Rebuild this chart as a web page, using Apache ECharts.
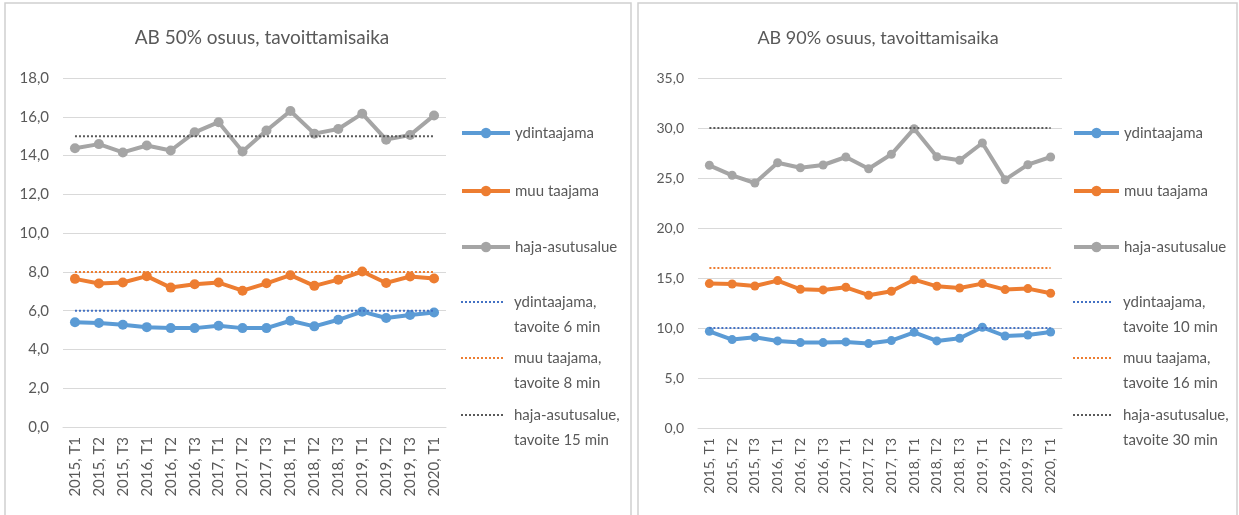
<!DOCTYPE html>
<html>
<head>
<meta charset="utf-8">
<script src="https://cdn.jsdelivr.net/npm/echarts@6/dist/echarts.min.js"></script>
<style>
html,body{margin:0;padding:0;background:#fff;}
#c{width:1239px;height:515px;}
</style>
</head>
<body>
<div id="c"></div>
<script>
const categories = ['2015, T1','2015, T2','2015, T3','2016, T1','2016, T2','2016, T3','2017, T1','2017, T2','2017, T3','2018, T1','2018, T2','2018, T3','2019, T1','2019, T2','2019, T3','2020, T1'];

// AB 50% (left)
const blue50   = [5.40, 5.36, 5.27, 5.15, 5.10, 5.10, 5.22, 5.10, 5.10, 5.48, 5.19, 5.53, 5.95, 5.62, 5.78, 5.91];
const orange50 = [7.64, 7.40, 7.45, 7.78, 7.19, 7.36, 7.45, 7.03, 7.41, 7.83, 7.28, 7.60, 8.02, 7.43, 7.76, 7.66];
const gray50   = [14.38, 14.59, 14.16, 14.52, 14.26, 15.20, 15.72, 14.21, 15.29, 16.30, 15.13, 15.37, 16.16, 14.82, 15.06, 16.07];
const target50Blue   = [6,6,6,6,6,6,6,6,6,6,6,6,6,6,6,6];
const target50Orange = [8,8,8,8,8,8,8,8,8,8,8,8,8,8,8,8];
const target50Gray   = [15,15,15,15,15,15,15,15,15,15,15,15,15,15,15,15];

// AB 90% (right)
const blue90   = [9.67, 8.84, 9.07, 8.71, 8.54, 8.54, 8.61, 8.44, 8.74, 9.57, 8.71, 8.97, 10.07, 9.20, 9.30, 9.60];
const orange90 = [14.44, 14.40, 14.20, 14.74, 13.87, 13.81, 14.07, 13.28, 13.68, 14.83, 14.17, 14.00, 14.44, 13.84, 13.94, 13.48];
const gray90   = [26.27, 25.27, 24.50, 26.53, 26.03, 26.30, 27.10, 25.93, 27.37, 29.93, 27.13, 26.77, 28.50, 24.83, 26.33, 27.10];
const target90Blue   = [10,10,10,10,10,10,10,10,10,10,10,10,10,10,10,10];
const target90Orange = [16,16,16,16,16,16,16,16,16,16,16,16,16,16,16,16];
const target90Gray   = [30,30,30,30,30,30,30,30,30,30,30,30,30,30,30,30];

const titles = ['AB 50% osuus, tavoittamisaika', 'AB 90% osuus, tavoittamisaika'];
const namesL = ['ydintaajama','muu taajama','haja-asutusalue','ydintaajama, tavoite 6 min','muu taajama, tavoite 8 min','haja-asutusalue, tavoite 15 min'];
const namesR = ['ydintaajama ','muu taajama ','haja-asutusalue ','ydintaajama, tavoite 10 min','muu taajama, tavoite 16 min','haja-asutusalue, tavoite 30 min'];

const FONT = 'Lato, "Open Sans", sans-serif';
const TXT = '#595959';
const C_BLUE = '#5B9BD5', C_ORANGE = '#ED7D31', C_GRAY = '#A5A5A5';
const D_BLUE = '#4472C4', D_ORANGE = '#ED7D31', D_GRAY = '#595959';

const fmt = v => v.toFixed(1).replace('.', ',');

function solid(name, data, color, idx, lw, ss) {
  return { name, type: 'line', data, xAxisIndex: idx, yAxisIndex: idx,
    symbol: 'circle', symbolSize: ss, showSymbol: true,
    lineStyle: { color, width: lw }, itemStyle: { color }, z: 3 };
}
function dotted(name, data, color, idx) {
  return { name, type: 'line', data, xAxisIndex: idx, yAxisIndex: idx,
    symbol: 'none', lineStyle: { color, width: 2, type: [2, 2] }, itemStyle: { color }, z: 4 };
}

const legendYs = [133, 191, 247, 302, 358, 415];
function legends(names, left, iw, fs) {
  return names.map((n, i) => {
    const multi = i >= 3;
    return {
      data: [n], left, top: multi ? legendYs[i] - 37.5 : legendYs[i] - 10,
      padding: 0, itemWidth: multi ? iw - 5 : iw, itemHeight: 13, itemGap: 0, selectedMode: false,
      lineStyle: { width: multi ? 2 : 4 },
      itemStyle: multi ? { opacity: 0 } : {},
      formatter: nm => multi ? '\n' + nm.trim().replace(', ', ',\n') : nm.trim(),
      textStyle: multi
        ? { fontFamily: FONT, fontSize: fs, color: TXT, lineHeight: 25, padding: [0, 0, 0, 5] }
        : { fontFamily: FONT, fontSize: fs, color: TXT, lineHeight: 20 }
    };
  });
}

function xAxis(idx, fs) {
  return { type: 'category', gridIndex: idx, data: categories, boundaryGap: true,
    axisLine: { lineStyle: { color: '#D9D9D9', width: 1 } }, axisTick: { show: false },
    axisLabel: { rotate: 90, margin: 10, interval: 0, fontFamily: FONT, fontSize: fs, color: TXT } };
}
function yAxis(idx, max, interval, fs) {
  return { type: 'value', gridIndex: idx, min: 0, max, interval,
    axisLine: { show: false }, axisTick: { show: false },
    splitLine: { lineStyle: { color: '#D9D9D9', width: 1 } },
    axisLabel: { formatter: fmt, margin: 14, fontFamily: FONT, fontSize: fs, color: TXT } };
}

const chart = echarts.init(document.getElementById('c'), null, { renderer: 'canvas' });
chart.setOption({
  backgroundColor: '#ffffff',
  animation: false,
  graphic: [
    { type: 'rect', shape: { x: 5, y: 3, width: 626, height: 540 }, style: { fill: 'none', stroke: '#D0D0D0', lineWidth: 1.5 }, silent: true, z: -10 },
    { type: 'rect', shape: { x: 638, y: 3, width: 599, height: 540 }, style: { fill: 'none', stroke: '#D0D0D0', lineWidth: 1.5 }, silent: true, z: -10 },
    { type: 'text', x: 262, y: 38, style: { text: titles[0], fontFamily: FONT, fontSize: 19, fill: TXT, textAlign: 'center', textVerticalAlign: 'middle' } },
    { type: 'text', x: 878, y: 38, style: { text: titles[1], fontFamily: FONT, fontSize: 18, fill: TXT, textAlign: 'center', textVerticalAlign: 'middle' } }
  ],
  grid: [
    { left: 63, top: 78, width: 383, height: 349 },
    { left: 698, top: 78, width: 364, height: 350 }
  ],
  xAxis: [xAxis(0, 15), xAxis(1, 14)],
  yAxis: [yAxis(0, 18, 2, 15), yAxis(1, 35, 5, 14)],
  legend: [].concat(legends(namesL, 460, 48, 15), legends(namesR, 1072, 45, 15)),
  series: [
    solid(namesL[0], blue50, C_BLUE, 0, 4, 10),
    solid(namesL[1], orange50, C_ORANGE, 0, 4, 10),
    solid(namesL[2], gray50, C_GRAY, 0, 4, 10),
    dotted(namesL[3], target50Blue, D_BLUE, 0),
    dotted(namesL[4], target50Orange, D_ORANGE, 0),
    dotted(namesL[5], target50Gray, D_GRAY, 0),
    solid(namesR[0], blue90, C_BLUE, 1, 4, 9),
    solid(namesR[1], orange90, C_ORANGE, 1, 4, 9),
    solid(namesR[2], gray90, C_GRAY, 1, 4, 9),
    dotted(namesR[3], target90Blue, D_BLUE, 1),
    dotted(namesR[4], target90Orange, D_ORANGE, 1),
    dotted(namesR[5], target90Gray, D_GRAY, 1)
  ]
});
</script>
</body>
</html>
